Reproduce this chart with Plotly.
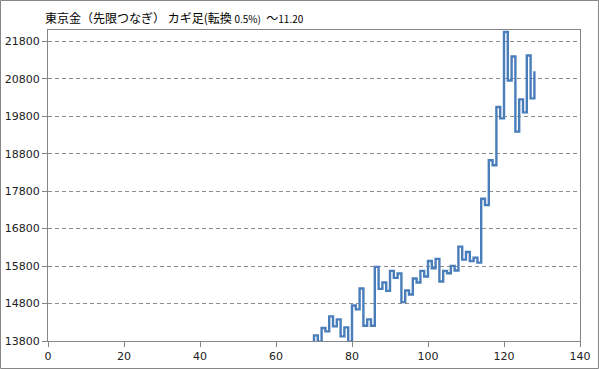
import plotly.graph_objects as go

# Kagi chart data: reversal index and turning-point prices
kagi_x = [69, 70, 71, 72, 73, 74, 75, 76, 77, 78, 79, 80, 81, 82, 83, 84, 85, 86, 87, 88,
          89, 90, 91, 92, 93, 94, 95, 96, 97, 98, 99, 100, 101, 102, 103, 104, 105, 106,
          107, 108, 109, 110, 111, 112, 113, 114, 115, 116, 117, 118, 119, 120, 121, 122,
          123, 124, 125, 126, 127, 128]
kagi_y = [13700, 13951, 13780, 14146, 14057, 14456, 14190, 14376, 13924, 14164, 13780,
          14749, 14643, 15201, 14208, 14376, 14208, 15778, 15192, 15361, 15139, 15671,
          15485, 15600, 14838, 15148, 15042, 15467, 15361, 15671, 15521, 15937, 15742,
          15991, 15388, 15671, 15609, 15804, 15680, 16319, 15973, 16177, 15937, 16026,
          15893, 17596, 17427, 18625, 18492, 20044, 19742, 22048, 20753, 21392, 19388,
          20248, 19902, 21419, 20275, 21002]

x_ticks = [0, 20, 40, 60, 80, 100, 120, 140]
y_ticks = [13800, 14800, 15800, 16800, 17800, 18800, 19800, 20800, 21800]

title_text = ("東京金（先限つなぎ） カギ足(転換 <span style='font-size:10px'>0.5%)</span>"
              "  ～<span style='font-size:10px'>11.20</span>")

W, H = 599, 369
ml, mr, mt, mb = 48, 19, 30, 28
pw, ph = W - ml - mr, H - mt - mb

fig = go.Figure()
fig.add_trace(go.Scatter(
    x=kagi_x, y=kagi_y, mode="lines", line_shape="hv",
    line=dict(color="#4a7ebb", width=2.4), hoverinfo="skip", showlegend=False))

axis_font = dict(family="DejaVu Sans", size=11, color="#222222")
fig.update_xaxes(
    range=[0, 140], tickvals=x_ticks, ticktext=[str(v) for v in x_ticks],
    showgrid=False, zeroline=False, showline=True, linecolor="#868686", linewidth=1,
    mirror=True, ticks="outside", ticklen=5, tickcolor="#868686", tickfont=axis_font,
    automargin=False)
fig.update_yaxes(
    range=[13800, 22100], tickvals=y_ticks, ticktext=[str(v) for v in y_ticks],
    showgrid=True, gridcolor="#8c8c8c", gridwidth=1, griddash="4px,3px",
    zeroline=False, showline=True, linecolor="#868686", linewidth=1,
    mirror=True, ticks="outside", ticklen=5, tickcolor="#868686", tickfont=axis_font,
    automargin=False)

# outer chart frame
fig.add_shape(type="rect", xref="paper", yref="paper",
              x0=(0.5 - ml) / pw, x1=(W - 0.5 - ml) / pw,
              y0=-(mb - 0.5) / ph, y1=1 + (mt - 0.5) / ph,
              line=dict(color="#868686", width=1), fillcolor="rgba(0,0,0,0)", layer="above")

fig.add_annotation(xref="paper", yref="paper",
                   x=(43 - ml) / pw, y=1 + (mt - 18) / ph, xanchor="left", yanchor="middle",
                   text=title_text, showarrow=False,
                   font=dict(family="Noto Sans CJK JP", size=12, color="#000000"))

fig.update_layout(
    width=W, height=H, margin=dict(l=ml, r=mr, t=mt, b=mb),
    paper_bgcolor="white", plot_bgcolor="white")

fig.write_html(
    "out.html",
    config={"displayModeBar": False},
    post_script="document.body.style.margin='0';document.body.style.padding='0';"
                "document.body.style.overflow='hidden';")
